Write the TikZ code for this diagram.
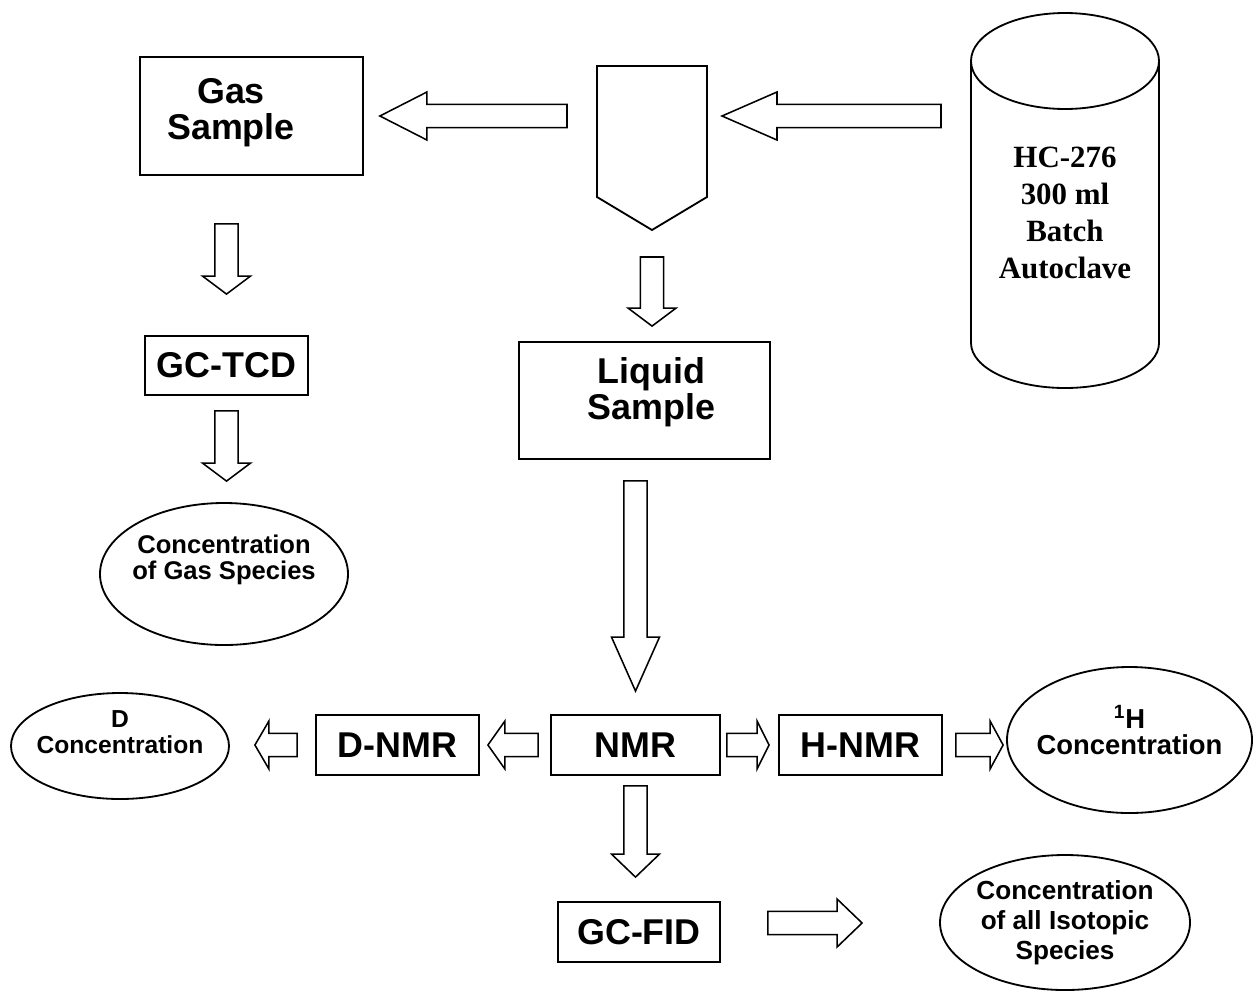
\documentclass[tikz,border=0pt]{standalone}
\usepackage{fontspec}
\setmainfont{Liberation Serif}
\setsansfont{Liberation Sans}
\usetikzlibrary{calc,shapes.geometric}
\tikzset{
  outl/.style={draw=black,line width=1.3pt},
  btxt/.style={inner sep=0pt,align=center,font=\sffamily\bfseries\fontsize{25.5}{26}\selectfont},
  box/.style={outl,rectangle,btxt},
  ell/.style={outl,ellipse,inner xsep=-5mm,inner ysep=0pt,align=center},
  efont/.style={font=\sffamily\bfseries\fontsize{#1}{18.5}\selectfont},
  hull/.style={inner sep=0pt,outer sep=0pt},
  blk/.style={outl,line width=1.1pt,fill=white,line join=miter},
}
\newcommand\bsw{2.9mm}
\newcommand\bhw{6mm}
% hollow block arrow: [head length]{tail}{tip}
\newcommand\blockarrow[3][4mm]{%
  \draw[blk] let \p1=(#2), \p2=(#3), \n1={veclen(\x2-\x1,\y2-\y1)}, \n2={atan2(\y2-\y1,\x2-\x1)} in
    {[shift={(\p1)},rotate=\n2]
     (0,-\bsw) -- (\n1-#1,-\bsw) -- (\n1-#1,-\bhw) -- (\n1,0) -- (\n1-#1,\bhw) -- (\n1-#1,\bsw) -- (0,\bsw) -- cycle};
}

\begin{document}
\begin{tikzpicture}[x=0.25mm,y=-0.25mm]
  \useasboundingbox (0,0) rectangle (1253,991);
  % ── top row ──
  \node[box,minimum width=55.75mm,minimum height=29.5mm] (gas) at (251.5,116) {};
  \node[btxt] (gasT) at ($(gas)+(-20.5,-3.5)$) {Gas\\Sample};
  \node[hull,minimum width=27.5mm,minimum height=41mm] (pipe) at (652,148) {};
  \draw[outl] (pipe.north west) -- (pipe.north east) -- ([yshift=8.25mm]pipe.south east)
    -- (pipe.south) -- ([yshift=8.25mm]pipe.south west) -- cycle;
  \node[hull,minimum width=47mm,minimum height=100mm,align=center,
        font=\rmfamily\bfseries\fontsize{22}{26.3}\selectfont] (cyl) at (1065,213) {HC-276\\300 ml\\Batch\\Autoclave};
  \draw[outl] ([yshift=-12mm]cyl.north west) -- ([yshift=17.5mm]cyl.south west)
    arc[start angle=180,end angle=360,x radius=23.5mm,y radius=11.25mm] -- ([yshift=-12mm]cyl.north east);
  \draw[outl] ([yshift=-12mm]cyl.north) ellipse [x radius=23.5mm,y radius=12mm];
  % ── gas branch ──
  \node[box,minimum width=40.75mm,minimum height=14.75mm] (tcd) at (226.5,365.5) {GC-TCD};
  \node[ell,efont=18.2,text depth=8.5mm,minimum width=62mm,minimum height=35.5mm] (gell) at (224,574) {Concentration\\of Gas Species};
  % ── liquid branch ──
  \node[box,minimum width=62.75mm,minimum height=29.25mm] (liq) at (644.5,400.5) {};
  \node[btxt] (liqT) at ($(liq)+(7,-8.5)$) {Liquid\\Sample};
  \node[box,minimum width=42.25mm,minimum height=15mm] (nmr) at (635.5,745) {NMR};
  \node[box,minimum width=40.75mm,minimum height=15mm] (dnmr) at (397.5,745) {D-NMR};
  \node[box,minimum width=40.75mm,minimum height=15mm] (hnmr) at (860.5,745) {H-NMR};
  \node[ell,efont=17.5,text depth=6.75mm,minimum width=54.5mm,minimum height=26.5mm] (dell) at (120,746) {D\\Concentration};
  \node[ell,efont=19.5,text depth=5mm,minimum width=61.25mm,minimum height=36.5mm] (hell) at (1129.5,740) {\textsuperscript{1}H\\Concentration};
  \node[box,minimum width=40.5mm,minimum height=15mm] (fid) at (639,932) {GC-FID};
  \node[ell,font=\sffamily\bfseries\fontsize{18.6}{21.5}\selectfont,minimum width=62.5mm,minimum height=33.75mm] (iell) at (1065,922.5) {Concentration\\of all Isotopic\\Species};
  % ── arrow ends ──
  \coordinate (a1s) at ($(pipe.west |- gas.east)+(-7.5mm,0)$);
  \coordinate (a1e) at ($(gas.east)+(4mm,0)$);
  \coordinate (a2s) at ($(cyl.west |- gas.east)+(-7.5mm,0)$);
  \coordinate (a2e) at ($(pipe.east |- gas.east)+(3.75mm,0)$);
  \coordinate (a3s) at ($(tcd.north |- gas.south)+(0,-12mm)$);
  \coordinate (a3e) at ($(tcd.north)+(0,10.25mm)$);
  \coordinate (a4s) at ($(pipe.south)+(0,-6.75mm)$);
  \coordinate (a4e) at ($(pipe.south |- liq.north)+(0,3.75mm)$);
  \coordinate (a5s) at ($(tcd.south)+(0,-3.75mm)$);
  \coordinate (a5e) at ($(tcd.south |- gell.north)+(0,5.25mm)$);
  \coordinate (a6s) at ($(nmr.north |- liq.south)+(0,-5.25mm)$);
  \coordinate (a6e) at ($(nmr.north)+(0,5.75mm)$);
  \coordinate (a7s) at ($(nmr.west)+(-3mm,0)$);
  \coordinate (a7e) at ($(dnmr.east)+(2mm,0)$);
  \coordinate (a8s) at ($(dnmr.west)+(-4.5mm,0)$);
  \coordinate (a8e) at ($(dell.east |- dnmr.west)+(6.25mm,0)$);
  \coordinate (a9s) at ($(nmr.east)+(1.5mm,0)$);
  \coordinate (a9e) at ($(hnmr.west)+(-2.25mm,0)$);
  \coordinate (a10s) at ($(hnmr.east)+(3.25mm,0)$);
  \coordinate (a10e) at ($(hell.west |- hnmr.east)+(-0.75mm,0)$);
  \coordinate (a11s) at ($(nmr.south)+(0,-2.5mm)$);
  \coordinate (a11e) at ($(nmr.south |- fid.north)+(0,6mm)$);
  \coordinate (a12s) at ($(fid.east)+(11.75mm,2.25mm)$);
  \coordinate (a12e) at ($(iell.west |- fid.east)+(-19.25mm,2.25mm)$);
  % ── arrows ──
  \blockarrow[11.75mm]{a1s}{a1e}
  \blockarrow[13.75mm]{a2s}{a2e}
  \blockarrow[4.5mm]{a3s}{a3e}
  \blockarrow[4.5mm]{a4s}{a4e}
  \blockarrow[4.5mm]{a5s}{a5e}
  \blockarrow[13.5mm]{a6s}{a6e}
  \blockarrow[4.25mm]{a7s}{a7e}
  \blockarrow[3.5mm]{a8s}{a8e}
  \blockarrow[3mm]{a9s}{a9e}
  \blockarrow[3.25mm]{a10s}{a10e}
  \blockarrow[5.75mm]{a11s}{a11e}
  \blockarrow[6.25mm]{a12s}{a12e}
\end{tikzpicture}
\end{document}
